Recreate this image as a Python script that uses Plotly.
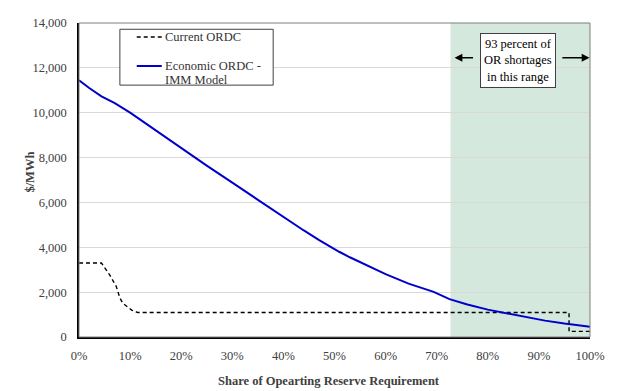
import plotly.graph_objects as go

# Share of operating reserve requirement (%) and prices ($/MWh)
econ_x = [0, 2, 4.4, 7, 10, 15, 20, 25, 30, 35, 40, 44, 47, 49, 51, 53, 56,
          60, 64.5, 67, 69.4, 72.5, 76, 80, 84, 88, 91.2, 95, 100]
econ_y = [11450, 11100, 10730, 10430, 10000, 9200, 8400, 7640, 6880, 6105, 5345,
          4750, 4320, 4045, 3790, 3555, 3225, 2805, 2378, 2200, 2010, 1690,
          1450, 1220, 1040, 870, 730, 600, 460]

cur_x = [0, 4.4, 6, 7.3, 8, 8.6, 10.3, 11.5, 95.9, 95.9, 100]
cur_y = [3300, 3300, 2770, 2250, 1740, 1500, 1200, 1090, 1090, 250, 250]

shade_range = [72.7, 100]
x_ticks = [0, 10, 20, 30, 40, 50, 60, 70, 80, 90, 100]
x_tick_labels = [f"{v}%" for v in x_ticks]
y_ticks = [0, 2000, 4000, 6000, 8000, 10000, 12000, 14000]

FONT = "Liberation Serif, Times New Roman, serif"

fig = go.Figure()
fig.add_trace(go.Scatter(x=cur_x, y=cur_y, mode="lines", name="Current ORDC",
                         line=dict(color="black", width=1.4, dash="4px,3px"),
                         showlegend=False))
fig.add_trace(go.Scatter(x=econ_x, y=econ_y, mode="lines", name="Economic ORDC - IMM Model",
                         line=dict(color="#0000cc", width=2), showlegend=False))

shapes = [
    dict(type="rect", xref="x", yref="y", x0=shade_range[0], x1=shade_range[1], y0=0, y1=14000,
         fillcolor="#d5e8de", line=dict(width=0), layer="below"),
    dict(type="rect", xref="paper", yref="paper", x0=0, x1=1, y0=0, y1=1,
         line=dict(color="#7f7f7f", width=1), fillcolor="rgba(0,0,0,0)"),
    # legend box
    dict(type="rect", xref="x", yref="y", x0=8.0, x1=38.0, y0=11230, y1=13720,
         line=dict(color="#404040", width=1), fillcolor="white"),
    dict(type="line", xref="x", yref="y", x0=11.3, x1=16.2, y0=13376, y1=13376,
         line=dict(color="black", width=1.4, dash="4px,3px")),
    dict(type="line", xref="x", yref="y", x0=11.3, x1=16.2, y0=12083, y1=12083,
         line=dict(color="#0000cc", width=2)),
]

leg_font = dict(family=FONT, size=12.5, color="#333")
annotations = [
    dict(xref="x", yref="y", x=16.5, y=13376, text="Current ORDC", showarrow=False,
         xanchor="left", yanchor="middle", font=leg_font),
    dict(xref="x", yref="y", x=16.5, y=12083, text="Economic ORDC -", showarrow=False,
         xanchor="left", yanchor="middle", font=leg_font),
    dict(xref="x", yref="y", x=16.5, y=11459, text="IMM Model", showarrow=False,
         xanchor="left", yanchor="middle", font=leg_font),
    # range annotation
    dict(xref="x", yref="y", x=73.5, y=12450, ax=77.4, ay=12450, axref="x", ayref="y",
         text="", showarrow=True, arrowhead=2, arrowsize=1.2, arrowwidth=1.3, arrowcolor="black"),
    dict(xref="x", yref="y", x=99.9, y=12450, ax=94.3, ay=12450, axref="x", ayref="y",
         text="", showarrow=True, arrowhead=2, arrowsize=1.2, arrowwidth=1.3, arrowcolor="black"),
    dict(xref="x", yref="y", x=85.9, y=12340, text="93 percent of<br>OR shortages<br>in this range",
         showarrow=False, bgcolor="white", bordercolor="#404040", borderwidth=1, borderpad=3,
         font=dict(family=FONT, size=12.5, color="black")),
    dict(xref="paper", yref="paper", x=-0.095, y=0.525, xanchor="center", yanchor="middle",
         text="<b>$/MWh</b>", textangle=-90,
         showarrow=False, font=dict(family=FONT, size=12.5, color="#404040")),
    dict(xref="paper", yref="paper", x=0.49, y=-0.14, xanchor="center", yanchor="middle",
         text="<b>Share of Opearting Reserve Requirement</b>",
         showarrow=False, font=dict(family=FONT, size=12.5, color="#404040")),
]

fig.update_layout(
    width=617, height=391,
    margin=dict(l=79, r=25, t=23, b=54),
    paper_bgcolor="white", plot_bgcolor="white",
    font=dict(family=FONT, size=12.5, color="#404040"),
    shapes=shapes, annotations=annotations,
    xaxis=dict(range=[0, 100], tickvals=x_ticks, ticktext=x_tick_labels,
               showgrid=False, zeroline=False, showline=True, linecolor="black", linewidth=1.5,
               ticks="outside", ticklen=6, tickcolor="rgba(0,0,0,0)",
               tickfont=dict(family=FONT, size=12.5, color="#404040")),
    yaxis=dict(range=[0, 14000], tickvals=y_ticks, tickformat=",d",
               showgrid=True, gridcolor="#d9d9d9", gridwidth=1, zeroline=False,
               showline=True, linecolor="black", linewidth=1.5,
               ticks="outside", ticklen=8, tickcolor="rgba(0,0,0,0)",
               tickfont=dict(family=FONT, size=12.5, color="#404040")),
)

fig.write_html("out.html", config={"displayModeBar": False},
               post_script="document.body.style.margin='0';")
